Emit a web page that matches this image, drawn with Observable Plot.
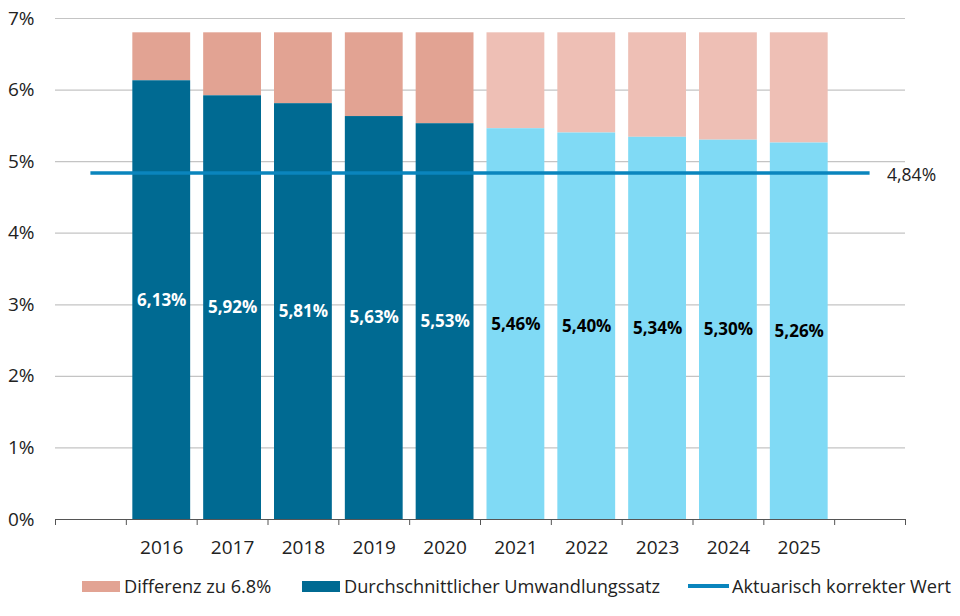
<!DOCTYPE html>
<html>
<head>
<meta charset="utf-8">
<script src="https://cdn.jsdelivr.net/npm/d3@7"></script>
<script src="https://cdn.jsdelivr.net/npm/@observablehq/plot@0.6"></script>
<style>
  body { margin: 0; background: #fff; font-family: "Open Sans", sans-serif; }
  #chart { width: 960px; }
  .legend { font-size: 18.2px; color: #222; height: 40px; position: relative; }
  .legend .item { display: flex; align-items: center; position: absolute; top: 6px; white-space: nowrap; }
  .sw { display: inline-block; width: 38px; height: 11px; margin-right: 4px; }
  .ln { display: inline-block; width: 41px; height: 4px; margin-right: 3px; }
</style>
</head>
<body>
<div id="chart"></div>
<script>
const years = ["2016","2017","2018","2019","2020","2021","2022","2023","2024","2025"];
const rates = [6.13, 5.92, 5.81, 5.63, 5.53, 5.46, 5.40, 5.34, 5.30, 5.26];
const forecast = [false,false,false,false,false,true,true,true,true,true];
const target = 6.8;
const actuarial = 4.84;
const yTicks = [0,1,2,3,4,5,6,7];
const seriesNames = ["Differenz zu 6.8%", "Durchschnittlicher Umwandlungssatz", "Aktuarisch korrekter Wert"];
const colors = { diffHist: "#e2a393", diffFc: "#eebfb5", rateHist: "#006a92", rateFc: "#80daf5", line: "#0a85bd" };

const slots = years.length + 2;
const data = years.map((y, i) => ({
  year: y, pos: i + 1, rate: rates[i], fc: forecast[i], target,
  label: rates[i].toFixed(2).replace(".", ",") + "%"
}));

const plot = Plot.plot({
  width: 960,
  height: 568,
  marginLeft: 55,
  marginRight: 55,
  marginTop: 18,
  marginBottom: 49,
  style: { fontFamily: "'Open Sans', sans-serif", fontSize: "19px", color: "#222" },
  x: { type: "linear", domain: [0, slots], axis: null, label: null },
  y: { domain: [0, 7], axis: null, label: null },
  marks: [
    Plot.ruleY(yTicks.filter(d => d > 0), { stroke: "#c4c4c4", strokeWidth: 1.2 }),
    Plot.axisY(yTicks, { tickSize: 0, tickPadding: 21, tickFormat: d => d + "%", fontSize: 19, fill: "#222", label: null }),
    // difference to 6.8%
    Plot.rectY(data, { x1: "pos", x2: d => d.pos + 1, y1: "rate", y2: "target", insetLeft: 6.5, insetRight: 6.5,
      fill: d => d.fc ? colors.diffFc : colors.diffHist }),
    // rate
    Plot.rectY(data, { x1: "pos", x2: d => d.pos + 1, y1: 0, y2: "rate", insetLeft: 6.5, insetRight: 6.5,
      fill: d => d.fc ? colors.rateFc : colors.rateHist }),
    // labels
    Plot.text(data, { x: d => d.pos + 0.5, y: d => d.rate / 2, text: "label", fontWeight: "bold", fontSize: 17,
      fill: d => d.fc ? "#000" : "#fff" }),
    // actuarial line
    Plot.ruleY([actuarial], { x1: 0.5, x2: slots - 0.5, stroke: colors.line, strokeWidth: 3.5 }),
    Plot.text([actuarial], { x: slots - 0.5, y: d => d, text: d => d.toFixed(2).replace(".", ",") + "%",
      textAnchor: "start", dx: 17, dy: 2, fontSize: 17.5, fill: "#222" }),
    // x axis
    Plot.ruleY([0], { stroke: "#555", strokeWidth: 1.2 }),
    Plot.axisX(d3.range(0, slots + 1), { tickSize: 6, tickFormat: () => "", stroke: "#555", label: null }),
    Plot.axisX(data.map(d => d.pos + 0.5), { tickSize: 0, tickPadding: 21, tickFormat: v => years[Math.floor(v) - 1], fontSize: 19, fill: "#222", label: null })
  ]
});
document.getElementById("chart").appendChild(plot);

const legend = document.createElement("div");
legend.className = "legend";
const items = [
  { left: 82, html: `<span class="sw" style="background:${colors.diffHist}"></span>${seriesNames[0]}` },
  { left: 302, html: `<span class="sw" style="background:${colors.rateHist}"></span>${seriesNames[1]}` },
  { left: 688, html: `<span class="ln" style="background:${colors.line}"></span>${seriesNames[2]}` }
];
items.forEach(it => {
  const s = document.createElement("div");
  s.className = "item";
  s.style.left = it.left + "px";
  s.innerHTML = it.html;
  legend.appendChild(s);
});
document.getElementById("chart").appendChild(legend);
</script>
</body>
</html>
